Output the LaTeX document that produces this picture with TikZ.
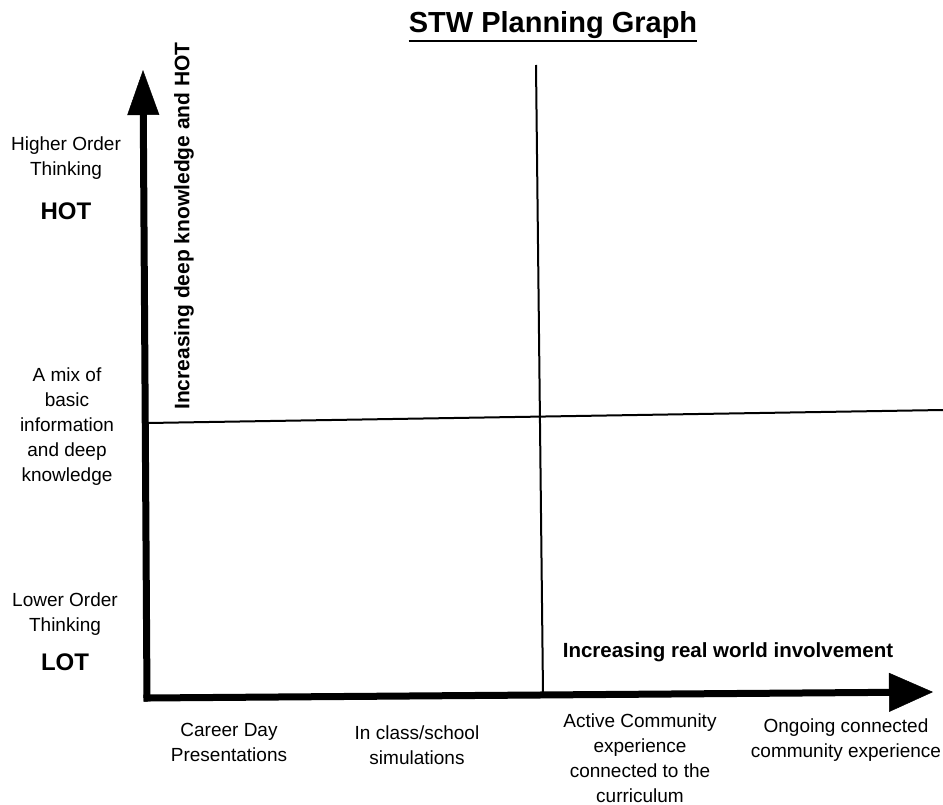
\documentclass[tikz,border=0pt]{standalone}
\usepackage{fontspec}
\setmainfont{Liberation Sans}
\usetikzlibrary{arrows.meta}
\begin{document}
\begin{tikzpicture}[x=1pt,y=-1pt,
  lbl/.style={font=\fontsize{19}{25}\selectfont, align=center, inner sep=0pt},
  big/.style={font=\fontsize{24}{28}\selectfont\bfseries, inner sep=0pt},
  axis/.style={line width=7pt, line cap=rect},
  divider/.style={line width=2pt}]
\useasboundingbox[fill=white] (0,0) rectangle (943,805);

% title with an underline that runs through the descenders
\node[font=\fontsize{29}{34}\selectfont\bfseries, inner sep=0pt, anchor=base] (title) at (553,33) {STW Planning Graph};
\draw[line width=2pt] ([yshift=-8.5pt]title.base west) -- ([yshift=-8.5pt]title.base east);

% axes
\coordinate (O) at (147,698);
\coordinate (ytop) at (143,70);
\coordinate (xend) at (933,692);
\draw[axis, -{Triangle[length=45pt,width=32pt,line width=0.5pt]}] (O) -- (ytop);
\draw[axis, -{Triangle[length=44pt,width=39pt,line width=0.5pt]}] (O) -- (xend);

% quadrant dividers
\coordinate (vtop) at (536,65);
\coordinate (vbot) at (543,693);
\coordinate (hl) at (148,423);
\coordinate (hr) at (943,410);
\draw[divider] (vtop) -- (vbot);
\draw[divider] (hl) -- (hr);

% axis captions
\node[font=\fontsize{21}{25}\selectfont\bfseries, rotate=90, inner sep=0pt] (ylab) at (184,226) {Increasing deep knowledge and HOT};
\node[font=\fontsize{20.5}{25}\selectfont\bfseries, inner sep=0pt] (xlab) at (728,652) {Increasing real world involvement};

% vertical scale
\node[lbl] (hi) at (66,158) {Higher Order\\Thinking};
\node[big] (hot) at (66,211) {HOT};
\node[lbl] (mix) at (67,427) {A mix of\\basic\\information\\and deep\\knowledge};
\node[lbl] (lo) at (65,614) {Lower Order\\Thinking};
\node[big] (lot) at (65,662) {LOT};

% horizontal scale
\node[lbl] (c1) at (229,742) {Career Day\\Presentations};
\node[lbl] (c2) at (417,745) {In class/school\\simulations};
\node[lbl] (c3) at (640,758) {Active Community\\experience\\connected to the\\curriculum};
\node[lbl] (c4) at (846,740) {Ongoing connected\\community experience};
\end{tikzpicture}
\end{document}
